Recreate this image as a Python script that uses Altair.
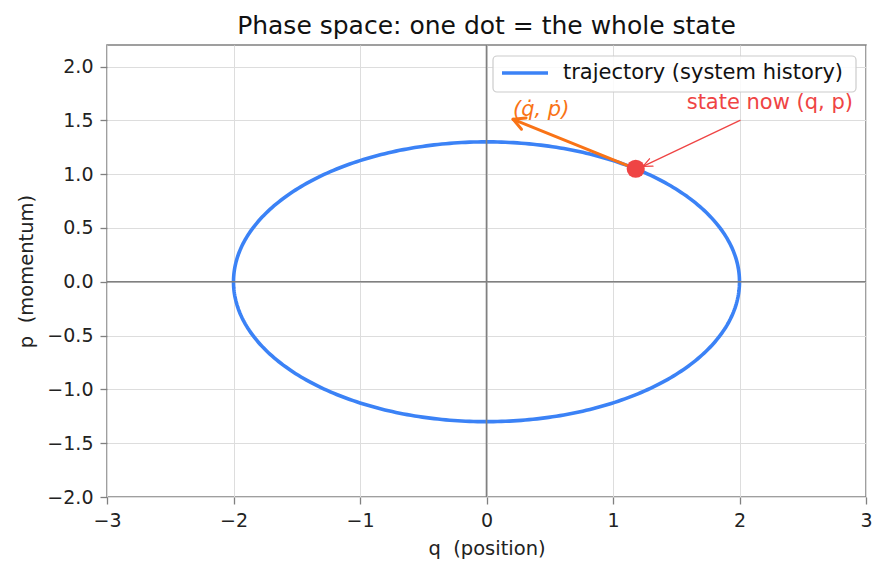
import numpy as np
import pandas as pd
import altair as alt

# ---- data ----
Q_AMP = 2.0          # semi-axis along q
P_AMP = 1.3          # semi-axis along p
T_NOW = 0.94         # phase of current state
VEL_SCALE = 0.6      # drawn length of velocity arrow
LEGEND_LABEL = "trajectory (system history)"
X_TICKS = [-3, -2, -1, 0, 1, 2, 3]
Y_TICKS = [-2.0, -1.5, -1.0, -0.5, 0.0, 0.5, 1.0, 1.5, 2.0]
X_DOMAIN = [-3, 3]
Y_DOMAIN = [-2, 2.2]
X_TITLE = "q\u00a0 (position)"
Y_TITLE = "p\u00a0 (momentum)"
STATE_LABEL = "state now (q, p)"
STATE_LABEL_POS = [2.897, 1.657]
STATE_ARROW_FROM = [2.004, 1.50]
STATE_ARROW_TO = [1.237, 1.072]
VEL_LABEL = "(q\u0307, p\u0307)"
VEL_LABEL_POS = [0.209, 1.595]

W, H = 759, 452
SX = W / (X_DOMAIN[1] - X_DOMAIN[0])
SY = H / (Y_DOMAIN[1] - Y_DOMAIN[0])

BLUE, ORANGE, RED = "#3b82f6", "#f97316", "#ef4444"
FONT = "DejaVu Sans"

t = np.linspace(0, 2 * np.pi, 400)
traj = pd.DataFrame({"t": t, "q": Q_AMP * np.cos(t), "p": P_AMP * np.sin(t)})

q0, p0 = Q_AMP * np.cos(T_NOW), P_AMP * np.sin(T_NOW)
qd, pd_ = -Q_AMP * np.sin(T_NOW), P_AMP * np.cos(T_NOW)
vel_end = [q0 + VEL_SCALE * qd, p0 + VEL_SCALE * pd_]


def arrow_segments(x0, y0, x1, y1, head_len, half_ang):
    dx, dy = (x1 - x0) * SX, -(y1 - y0) * SY
    n = np.hypot(dx, dy)
    ux, uy = dx / n, dy / n
    segs = [(x0, y0, x1, y1)]
    for s in (1, -1):
        a = s * np.radians(half_ang)
        rx = ux * np.cos(a) - uy * np.sin(a)
        ry = ux * np.sin(a) + uy * np.cos(a)
        wx = x1 - head_len * rx / SX
        wy = y1 + head_len * ry / SY
        segs.append((x1, y1, wx, wy))
    return pd.DataFrame(segs, columns=["x", "y", "x2", "y2"])


vel_df = arrow_segments(q0, p0, vel_end[0], vel_end[1], 13, 28)
st_df = arrow_segments(*STATE_ARROW_FROM, *STATE_ARROW_TO, 10, 24)

xs = alt.Scale(domain=X_DOMAIN, nice=False, zero=False)
ys = alt.Scale(domain=Y_DOMAIN, nice=False, zero=False)

x_axis = alt.Axis(values=X_TICKS, format="d", title=X_TITLE)
y_axis = alt.Axis(values=Y_TICKS, format=".1f", title=Y_TITLE)

base_traj = alt.Chart(traj).mark_line(color=BLUE, strokeWidth=3.6, clip=True).encode(
    x=alt.X("q:Q", scale=xs, axis=x_axis),
    y=alt.Y("p:Q", scale=ys, axis=y_axis),
    order=alt.Order("t:Q"),
)

zero = pd.DataFrame({"v": [0]})
vline = alt.Chart(zero).mark_rule(color="#808080", strokeWidth=1.6).encode(x=alt.X("v:Q", scale=xs, title=X_TITLE))
hline = alt.Chart(zero).mark_rule(color="#808080", strokeWidth=1.6).encode(y=alt.Y("v:Q", scale=ys, title=Y_TITLE))

vel_arrow = alt.Chart(vel_df).mark_rule(color=ORANGE, strokeWidth=3, strokeCap="round").encode(
    x=alt.X("x:Q", scale=xs), y=alt.Y("y:Q", scale=ys), x2="x2:Q", y2="y2:Q"
)
st_arrow = alt.Chart(st_df).mark_rule(color=RED, strokeWidth=1.3, strokeCap="round").encode(
    x=alt.X("x:Q", scale=xs), y=alt.Y("y:Q", scale=ys), x2="x2:Q", y2="y2:Q"
)

dot = alt.Chart(pd.DataFrame({"q": [q0], "p": [p0]})).mark_circle(
    color=RED, size=330, opacity=1
).encode(x=alt.X("q:Q", scale=xs), y=alt.Y("p:Q", scale=ys))

st_text = alt.Chart(pd.DataFrame({"x": [STATE_LABEL_POS[0]], "y": [STATE_LABEL_POS[1]], "s": [STATE_LABEL]})).mark_text(
    color=RED, font=FONT, fontSize=21, align="right", baseline="middle"
).encode(x=alt.X("x:Q", scale=xs), y=alt.Y("y:Q", scale=ys), text="s:N")

vel_text = alt.Chart(pd.DataFrame({"x": [VEL_LABEL_POS[0]], "y": [VEL_LABEL_POS[1]], "s": [VEL_LABEL]})).mark_text(
    color=ORANGE, font=FONT, fontSize=21, fontStyle="italic", align="left", baseline="middle"
).encode(x=alt.X("x:Q", scale=xs), y=alt.Y("y:Q", scale=ys), text="s:N")

leg = pd.DataFrame({"label": [LEGEND_LABEL]})
leg_box = alt.Chart(leg).mark_rect(fill="white", fillOpacity=0.85, stroke="#cccccc", strokeWidth=1.2, cornerRadius=4).encode(
    x=alt.value(386), x2=alt.value(749), y=alt.value(11), y2=alt.value(47)
)
leg_line = alt.Chart(leg).mark_rule(color=BLUE, strokeWidth=3.6).encode(
    x=alt.value(395), x2=alt.value(441), y=alt.value(28)
)
leg_text = alt.Chart(leg).mark_text(font=FONT, fontSize=21, align="left", baseline="middle", color="#111111").encode(
    x=alt.value(456), y=alt.value(28), text="label:N"
)

chart = alt.layer(
    base_traj, vline, hline, vel_arrow, dot, st_arrow, st_text, vel_text, leg_box, leg_line, leg_text
).properties(
    width=W, height=H,
    background="white",
    title=alt.Title("Phase space: one dot = the whole state", font=FONT, fontSize=25, fontWeight="normal",
                    color="#111111", anchor="middle", offset=5),
    autosize=alt.AutoSizeParams(type="none"),
    padding={"left": 107, "top": 45, "right": 21, "bottom": 76},
).configure_view(
    stroke="#808080", strokeWidth=1.5
).configure_axis(
    grid=True, domain=False, gridColor="#dddddd", gridWidth=1, tickColor="#808080", tickSize=7, tickWidth=1.3,
    labelFont=FONT, labelFontSize=19, labelColor="#222222", labelPadding=7, labelFlush=False,
    titleFont=FONT, titleFontSize=19.5, titleFontWeight="normal", titleColor="#222222",
).configure_axisX(
    titlePadding=9
).configure_axisY(
    titlePadding=10
)

chart.save("out.html", embed_options={"renderer": "svg", "actions": False})
